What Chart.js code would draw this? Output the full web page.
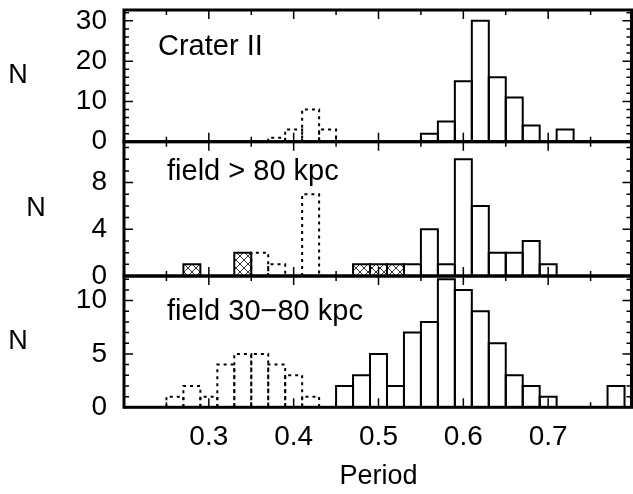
<!DOCTYPE html>
<html>
<head>
<meta charset="utf-8">
<script src="https://cdn.jsdelivr.net/npm/chart.js@4/dist/chart.umd.min.js"></script>
<style>
  html, body { margin: 0; padding: 0; background: #ffffff; }
  #wrap { width: 633px; height: 494px; position: relative; }
</style>
</head>
<body>
<div id="wrap"><canvas id="c" width="633" height="494"></canvas></div>
<script>
// ---------------- data (bin centres, bin width 0.02) ----------------
const panelLabels = ['Crater II', 'field > 80 kpc', 'field 30\u221280 kpc'];
const axisTitleY = 'N';
const axisTitleX = 'Period';

const xTickValues = [0.3, 0.4, 0.5, 0.6, 0.7];
const xTickLabels = ['0.3', '0.4', '0.5', '0.6', '0.7'];
const xMinorValues = [0.25, 0.35, 0.45, 0.55, 0.65, 0.75];

const yTicksTop = [0, 10, 20, 30];
const yTicksMid = [0, 4, 8];
const yTicksBot = [0, 5, 10];

// Crater II
const craterRRabPeriod = [0.56, 0.58, 0.60, 0.62, 0.64, 0.66, 0.68, 0.72];
const craterRRabN      = [2, 5, 15, 30, 16, 11, 4, 3];
const craterRRcPeriod  = [0.38, 0.40, 0.42, 0.44];
const craterRRcN       = [1, 3, 8, 3];

// field > 80 kpc
const farRRabPeriod = [0.54, 0.56, 0.58, 0.60, 0.62, 0.64, 0.66, 0.68, 0.70];
const farRRabN      = [1, 4, 1, 10, 6, 2, 2, 3, 1];
const farRRcPeriod  = [0.36, 0.38, 0.42];
const farRRcN       = [2, 1, 7];
const farHatchPeriod = [0.28, 0.34, 0.48, 0.50, 0.52];
const farHatchN      = [1, 2, 1, 1, 1];

// field 30-80 kpc
const nearRRabPeriod = [0.46, 0.48, 0.50, 0.52, 0.54, 0.56, 0.58, 0.60, 0.62, 0.64, 0.66, 0.68, 0.70, 0.78];
const nearRRabN      = [2, 3, 5, 2, 7, 8, 12, 11, 9, 6, 3, 2, 1, 2];
const nearRRcPeriod  = [0.26, 0.28, 0.30, 0.32, 0.34, 0.36, 0.38, 0.40, 0.42];
const nearRRcN       = [1, 2, 1, 4, 5, 5, 4, 3, 1];

// ---------------- helpers ----------------
const FONT = '"Liberation Sans", Arial, Helvetica, sans-serif';
const pts = (xs, ys) => xs.map((x, i) => ({ x: x, y: ys[i] }));

function hatchPattern() {
  const c = document.createElement('canvas');
  c.width = 8; c.height = 8;
  const g = c.getContext('2d');
  g.fillStyle = '#ffffff';
  g.fillRect(0, 0, 8, 8);
  g.strokeStyle = '#333333';
  g.lineWidth = 1;
  g.beginPath();
  g.moveTo(0, 0); g.lineTo(8, 8);
  g.moveTo(8, 0); g.lineTo(0, 8);
  g.stroke();
  return document.getElementById('c').getContext('2d').createPattern(c, 'repeat');
}

const panels = [
  { id: 'yTop', label: panelLabels[0], ticks: yTicksTop, minor: 2, major: 10, max: 32.7, weight: 131.7, textDy: 45, textX: 158, nX: 18 },
  { id: 'yMid', label: panelLabels[1], ticks: yTicksMid, minor: 1, major: 4, max: 11.5, weight: 134.3, textDy: 38, textX: 167, nX: 36 },
  { id: 'yBot', label: panelLabels[2], ticks: yTicksBot, minor: 1, major: 5, max: 12.3, weight: 131.3, textDy: 44, textX: 167, nX: 18 }
];

function yScale(p, order) {
  return {
    type: 'linear',
    position: 'left',
    stack: 'panels',
    stackWeight: p.weight,
    weight: order,
    min: 0,
    max: p.max,
    offset: false,
    grid: { display: false, drawTicks: false },
    border: { display: false },
    afterBuildTicks: s => { s.ticks = p.ticks.map(v => ({ value: v })); },
    afterFit: s => { s.width = 124; s.paddingTop = 0; s.paddingBottom = 0; },
    ticks: { autoSkip: false, padding: 17, color: '#000', font: { family: FONT, size: 28 } }
  };
}

const deco = {
  id: 'deco',
  afterDatasetsDraw(chart) {
    const ctx = chart.ctx;
    chart.data.datasets.forEach((ds, i) => {
      const meta = chart.getDatasetMeta(i);
      ctx.save();
      ctx.strokeStyle = '#000';
      ctx.lineWidth = 2;
      ctx.setLineDash(ds.outline === 'dash' ? [3, 4] : []);
      meta.data.forEach(el => {
        const { x, y, base, width } = el.getProps(['x', 'y', 'base', 'width'], true);
        if (Math.abs(base - y) < 0.5) return;
        const l = x - width / 2, r = x + width / 2;
        ctx.beginPath();
        ctx.moveTo(l, base);
        ctx.lineTo(l, y);
        ctx.lineTo(r, y);
        ctx.lineTo(r, base);
        ctx.stroke();
      });
      ctx.restore();
    });
  },
  afterDraw(chart) {
    const ctx = chart.ctx;
    const xs = chart.scales.x;
    const left = chart.chartArea.left;
    const right = chart.chartArea.right - 1.5;
    ctx.save();
    ctx.strokeStyle = '#000';
    ctx.setLineDash([]);
    panels.forEach(p => {
      const s = chart.scales[p.id];
      const top = s.top, bot = s.bottom;
      ctx.lineWidth = 1.5;
      ctx.beginPath();
      for (let v = 0; v <= p.max + 1e-9; v += p.minor) {
        const yy = s.getPixelForValue(v);
        const len = (Math.abs(v / p.major - Math.round(v / p.major)) < 1e-6) ? 9 : 5;
        ctx.moveTo(left, yy); ctx.lineTo(left + len, yy);
        ctx.moveTo(right, yy); ctx.lineTo(right - len, yy);
      }
      xTickValues.forEach(v => {
        const xx = xs.getPixelForValue(v);
        ctx.moveTo(xx, top); ctx.lineTo(xx, top + 9);
        ctx.moveTo(xx, bot); ctx.lineTo(xx, bot - 9);
      });
      xMinorValues.forEach(v => {
        const xx = xs.getPixelForValue(v);
        ctx.moveTo(xx, top); ctx.lineTo(xx, top + 5);
        ctx.moveTo(xx, bot); ctx.lineTo(xx, bot - 5);
      });
      ctx.stroke();
      ctx.lineWidth = 3;
      ctx.strokeRect(left, top, right - left, bot - top);
      ctx.fillStyle = '#000';
      ctx.font = '29px ' + FONT;
      ctx.textAlign = 'left';
      ctx.textBaseline = 'alphabetic';
      ctx.fillText(p.label, p.textX, top + p.textDy);
      ctx.font = '27px ' + FONT;
      ctx.textAlign = 'center';
      ctx.textBaseline = 'middle';
      ctx.fillText(axisTitleY, p.nX, (top + bot) / 2);
    });
    ctx.restore();
  }
};

const hatch = hatchPattern();

new Chart(document.getElementById('c'), {
  type: 'bar',
  data: {
    datasets: [
      { label: 'Crater II RRab', data: pts(craterRRabPeriod, craterRRabN), yAxisID: 'yTop', backgroundColor: '#ffffff', outline: 'solid' },
      { label: 'Crater II RRc', data: pts(craterRRcPeriod, craterRRcN), yAxisID: 'yTop', backgroundColor: 'rgba(0,0,0,0)', outline: 'dash' },
      { label: 'field >80 RRab', data: pts(farRRabPeriod, farRRabN), yAxisID: 'yMid', backgroundColor: '#ffffff', outline: 'solid' },
      { label: 'field >80 RRc', data: pts(farRRcPeriod, farRRcN), yAxisID: 'yMid', backgroundColor: 'rgba(0,0,0,0)', outline: 'dash' },
      { label: 'field >80 other', data: pts(farHatchPeriod, farHatchN), yAxisID: 'yMid', backgroundColor: hatch, outline: 'solid' },
      { label: 'field 30-80 RRab', data: pts(nearRRabPeriod, nearRRabN), yAxisID: 'yBot', backgroundColor: '#ffffff', outline: 'solid' },
      { label: 'field 30-80 RRc', data: pts(nearRRcPeriod, nearRRcN), yAxisID: 'yBot', backgroundColor: 'rgba(0,0,0,0)', outline: 'dash' }
    ]
  },
  options: {
    responsive: false,
    animation: false,
    devicePixelRatio: 1,
    layout: { padding: { top: 10, left: 0, right: 0, bottom: 0 } },
    plugins: { legend: { display: false }, tooltip: { enabled: false } },
    datasets: { bar: { grouped: false, barPercentage: 1, categoryPercentage: 1, borderWidth: 0 } },
    scales: {
      x: {
        type: 'linear',
        position: 'bottom',
        min: 0.2,
        max: 0.8,
        offset: false,
        grid: { display: false, drawTicks: false, offset: false },
        border: { display: false },
        afterBuildTicks: s => { s.ticks = xTickValues.map(v => ({ value: v })); },
        afterFit: s => { s.height = 86.7; s.paddingLeft = 0; s.paddingRight = 0; },
        ticks: {
          autoSkip: false, maxRotation: 0, minRotation: 0, padding: 13,
          color: '#000', font: { family: FONT, size: 28 },
          callback: (v, i) => xTickLabels[i]
        },
        title: { display: true, text: axisTitleX, color: '#000', font: { family: FONT, size: 27 }, padding: { top: 0, bottom: 1 } }
      },
      yBot: yScale(panels[2], 1),
      yMid: yScale(panels[1], 2),
      yTop: yScale(panels[0], 3)
    }
  },
  plugins: [deco]
});
</script>
</body>
</html>
